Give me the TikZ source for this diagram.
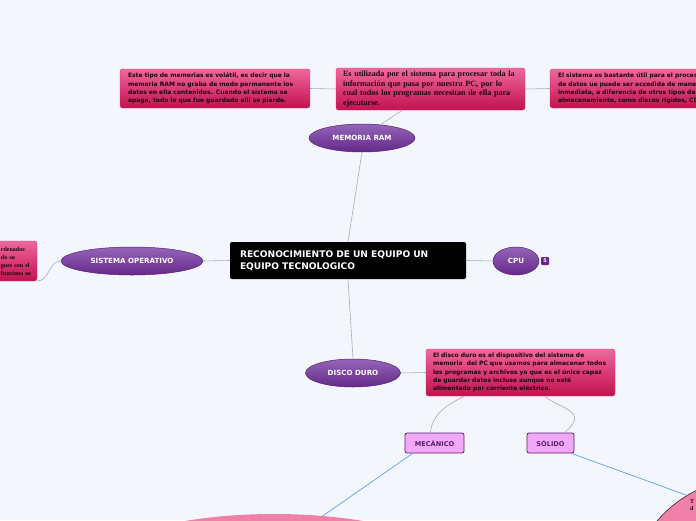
\documentclass[tikz,border=0pt]{standalone}
\usepackage{fontspec}
\setmainfont{Liberation Serif}
\setsansfont{DejaVu Sans}
\usetikzlibrary{shapes.geometric,calc}
\definecolor{paper}{HTML}{F3F6FD}
\definecolor{topicTop}{HTML}{9466BA}
\definecolor{topicBot}{HTML}{652888}
\definecolor{topicEdge}{HTML}{55206F}
\definecolor{noteTop}{HTML}{EC6A9C}
\definecolor{noteMid}{HTML}{DB3A75}
\definecolor{noteBot}{HTML}{C0134E}
\definecolor{noteEdge}{HTML}{D23A72}
\definecolor{noteText}{HTML}{1E0610}
\definecolor{subFill}{HTML}{F2A8F8}
\definecolor{subEdge}{HTML}{5C2068}
\definecolor{linkGray}{HTML}{A8ACBC}
\definecolor{linkBlue}{HTML}{5AA2EC}
\definecolor{blobPink}{HTML}{F080A8}
\definecolor{blobEdge}{HTML}{3A2230}
\tikzset{
  rootbox/.style={
    rectangle, rounded corners=2pt, fill=black, text=white, align=left,
    inner xsep=10pt, inner ysep=0pt,
    font=\sffamily\bfseries\fontsize{9.1}{12}\selectfont,
  },
  topic/.style={
    ellipse, draw=topicEdge, line width=0.5pt, top color=topicTop,
    bottom color=topicBot, text=white, inner sep=0pt, outer sep=0pt,
    font=\sffamily\bfseries\fontsize{7.1}{8}\selectfont,
  },
  note/.style={
    rectangle, rounded corners=2.5pt, draw=noteEdge, line width=0.4pt,
    top color=noteTop, bottom color=noteBot, middle color=noteMid,
    text=noteText, align=left, anchor=north west, inner ysep=0pt, outer sep=0pt,
  },
  notesans/.style={note, font=\sffamily\bfseries\fontsize{6}{8.4}\selectfont},
  noteserif/.style={note, font=\rmfamily\bfseries\fontsize{8.1}{9.5}\selectfont},
  subtopic/.style={
    rectangle, rounded corners=2pt, draw=subEdge, line width=0.8pt,
    fill=subFill, text=subEdge, minimum height=20pt, inner sep=0pt,
    font=\sffamily\bfseries\fontsize{6.6}{8}\selectfont,
  },
  link/.style={draw=linkGray, line width=0.6pt},
  bluelink/.style={draw=linkBlue, line width=0.7pt},
}

\begin{document}
\begin{tikzpicture}[x=1pt, y=-1pt]

\useasboundingbox (0,0) rectangle (696,520);
\clip (0,0) rectangle (696,520);
\fill[paper] (0,0) rectangle (696,520);

% Big bubbles at the bottom
\node[ellipse, fill=blobPink, minimum width=380pt, minimum height=120pt, outer sep=0pt] (mecBlob) at (274,574) {};
\node[circle, fill=blobPink, draw=blobEdge, line width=0.6pt, minimum size=244pt, outer sep=0pt] (solBlob) at (750,600) {};
\node[anchor=north west, inner sep=0pt, align=left, text=noteText,
  font=\rmfamily\bfseries\fontsize{6}{7}\selectfont] (solText) at (690,499) {T\\d};

% Central topic
\node[rootbox, minimum width=236pt, minimum height=37pt, text width=216pt] (root) at (348,260.5)
  {RECONOCIMIENTO DE UN EQUIPO UN\\EQUIPO TECNOLOGICO};

% Main topics
\node[topic, minimum width=106pt, minimum height=28pt] (ram) at (362,138) {MEMORIA RAM};
\node[topic, minimum width=142pt, minimum height=28pt] (sisop) at (132,261) {SISTEMA OPERATIVO};
\node[topic, minimum width=46pt, minimum height=28pt] (cpu) at (516,261) {CPU};
\node[topic, minimum width=95pt, minimum height=28pt] (disco) at (353,373) {DISCO DURO};
\node[rectangle, rounded corners=1pt, fill=topicBot, text=white, minimum size=8pt, inner sep=0pt,
  font=\sffamily\bfseries\fontsize{5}{5}\selectfont] (badge) at (545,261) {5};

% Notes on memoria RAM
\node[notesans, minimum width=190pt, minimum height=39pt, inner xsep=8pt, text width=174pt] (ramA) at (120,69)
  {Este tipo de memorias es volátil, es decir que la\\
   memoria RAM no graba de modo permanente los\\
   datos en ella contenidos. Cuando el sistema se\\
   apaga, todo lo que fue guardado allí se pierde.};
\node[noteserif, minimum width=189pt, minimum height=42pt, inner xsep=7pt, text width=175pt] (ramB) at (336,68)
  {Es utilizada por el sistema para procesar toda la\\
   información que pasa por nuestra PC, por lo\\
   cual todos los programas necesitan de ella para\\
   ejecutarse.};
\node[notesans, minimum width=200pt, minimum height=39pt, inner xsep=8pt, text width=184pt] (ramC) at (550,69)
  {El sistema es bastante útil para el proces\\
   de datos ue puede ser accedida de maner\\
   inmediata, a diferencia de otros tipos de\\
   almacenamiento, como discos rígidos, CD};

% Note on sistema operativo
\node[note, anchor=north east, minimum width=40pt, minimum height=40pt, inner xsep=4pt, text width=32pt,
  font=\rmfamily\bfseries\fontsize{6}{8}\selectfont] (sisopNote) at (37,241)
  {rdenador.\\do su\\gues con el\\ funciona su};

% Note on disco duro
\node[notesans, minimum width=189pt, minimum height=47pt, inner xsep=7pt, text width=175pt] (discoNote) at (426,349)
  {El disco duro es el dispositivo del sistema de\\
   memoria~ del PC que usamos para almacenar todos\\
   los programas y archivos ya que es el único capaz\\
   de guardar datos incluso aunque no esté\\
   alimentado por corriente eléctrica.};

% Kinds of disk
\node[subtopic, minimum width=59pt] (mecanico) at (434.5,443) {MECÁNICO};
\node[subtopic, minimum width=47pt] (solido) at (550.5,443) {SÓLIDO};

% Connectors
\draw[link] (root.north) -- (ram.south);
\draw[link] (ram.36) -- (ramB.217);
\draw[link] (ramA.east) -- (ramB.west);
\draw[link] (ramB.east) -- (ramC.west);
\draw[link] (root.west) -- (sisop.east);
\draw[link] (sisop.west) .. controls (48,261) and (50,281) .. (sisopNote.south east);
\draw[link] (root.east) -- (cpu.west);
\draw[link] (root.south) -- (disco.north);
\draw[link] (disco.east) -- (discoNote.west);
\draw[link] ($(discoNote.south west)+(39,0)$) .. controls (448,404) and (432,414) .. ($(mecanico.north)+(-4,0)$);
\draw[link] ($(discoNote.south west)+(119,0)$) .. controls (556,408) and (592,410) .. ($(solido.north)+(14,0)$);
\draw[bluelink] ($(mecanico.south west)+(8,0)$) -- (mecBlob.50);
\draw[bluelink] ($(solido.south east)+(-3,0)$) -- (solBlob.121);

\end{tikzpicture}
\end{document}
